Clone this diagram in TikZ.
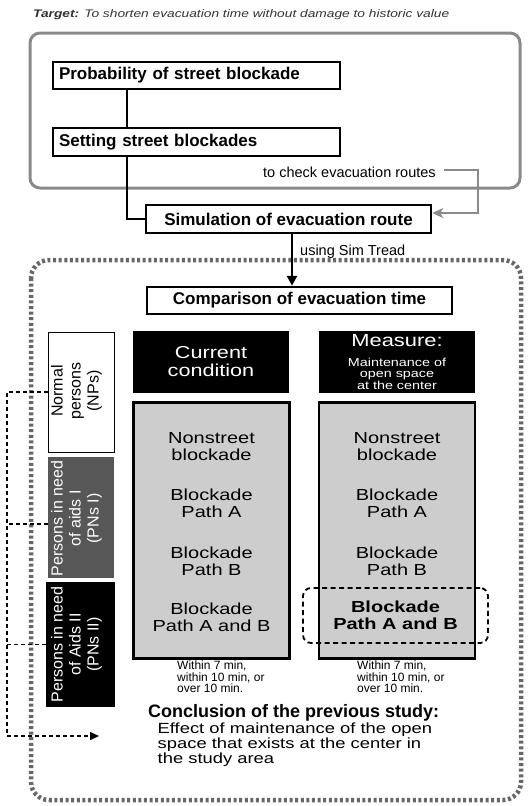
\documentclass[tikz,border=0pt]{standalone}
\usepackage{fontspec}
\setmainfont{Liberation Sans}
\newfontfamily\widesans[FakeStretch=1.25]{Liberation Sans}
\usetikzlibrary{arrows.meta,positioning}
\definecolor{FRAMEGRAY}{HTML}{8A8A8A}
\definecolor{DOTGRAY}{HTML}{676767}
\definecolor{CELLGRAY}{HTML}{CDCDCD}
\definecolor{PNSGRAY}{HTML}{575757}
\tikzset{
BOLDBOX/.style={draw=black,line width=2.5pt,inner sep=0pt,minimum height=27pt,font=\bfseries\fontsize{17}{20}\selectfont},
HEADBOX/.style={fill=black,text=white,minimum width=156pt,minimum height=62pt,inner sep=0pt,align=center},
CELL/.style={draw=black,fill=CELLGRAY,line width=2.5pt,minimum width=156pt,minimum height=256pt},
CELLTEXT/.style={align=center,inner sep=0pt,font=\widesans\fontsize{16}{17}\selectfont},
GROUP/.style={rotate=90,minimum width=#1,minimum height=66pt,inner sep=0pt},
GROUP/.default=120pt,
GROUPTEXT/.style={rotate=90,inner sep=0pt,align=center,font=\fontsize{16}{18}\selectfont},
LINK/.style={draw=black,line width=2.5pt},
FEEDBACK/.style={draw=FRAMEGRAY,line width=1.6pt,-{Stealth[length=11pt,width=10pt,inset=3pt]}},
TRACE/.style={draw=black,line width=1.5pt,dash pattern=on 4pt off 3pt},
NOTE/.style={inner sep=0pt,font=\fontsize{14.5}{16}\selectfont},
SMALLNOTE/.style={inner sep=0pt,align=left,font=\fontsize{12}{11.5}\selectfont},
}

\begin{document}
\begin{tikzpicture}[x=1pt,y=-1pt]
	\useasboundingbox (0,0) rectangle (529,806);
	%Target
	\node[anchor=west,inner sep=0pt,text=black!80,font=\widesans\itshape\fontsize{11}{13}\selectfont] (target) at (33,15)
		{\textbf{Target:} To shorten evacuation time without damage to historic value};
	%Upper frame
	\draw[FRAMEGRAY,line width=3pt,rounded corners=10pt] (30,33) rectangle (520,188);
	\node[BOLDBOX,text width=275pt,align=left,inner xsep=6pt] (prob) at (196.5,75.5) {Probability of street blockade};
	\node[BOLDBOX,text width=275pt,align=left,inner xsep=6pt,minimum height=28pt] (set) at (196.5,142) {Setting street blockades};
	\node[BOLDBOX,minimum width=285pt,minimum height=28pt] (sim) at (288.5,219) {Simulation of evacuation route};
	\node[NOTE,anchor=west] (check) at (263,172) {to check evacuation routes};
	\node[NOTE,anchor=west] (tread) at (300,252) {using Sim Tread};
	\coordinate (turn) at (478,170);
	\draw[LINK] ([xshift=-69.5pt]prob.south) -- ([xshift=-69.5pt]set.north);
	\draw[LINK] ([xshift=-69.5pt]set.south) |- (sim.west);
	\draw[FEEDBACK] ([xshift=8pt,yshift=2pt]check.east) -- (turn) |- ([yshift=6pt]sim.east);
	%Lower frame
	\draw[DOTGRAY,line width=4.5pt,dash pattern=on 3pt off 2.6pt,rounded corners=18pt] (31,260) rectangle (521,800);
	\node[BOLDBOX,minimum width=305pt] (comp) at (299.5,300.5) {Comparison of evacuation time};
	\draw[LINK,-{Triangle[length=10pt,width=10pt]}] ([xshift=3.5pt]sim.south) -- ([xshift=3.5pt]sim.south |- comp.north);
	\node[HEADBOX,font=\widesans\fontsize{17.3}{18}\selectfont] (cur) at (211,362) {Current\\condition};
	\node[HEADBOX,font=\widesans\fontsize{11.5}{11.5}\selectfont] (meas) at (397,362)
		{{\fontsize{17.5}{18}\selectfont Measure:}\\[8.5pt]Maintenance of\\open space\\at the center};
	%Cases
	\node[CELL] (cellL) at (211.5,530.5) {};
	\node[CELL] (cellR) at (397,530.5) {};
	\foreach \cx/\s in {211.5/L,397/R}{
		\node[CELLTEXT] (none\s) at (\cx,446.5) {Nonstreet\\blockade};
		\node[CELLTEXT] (pathA\s) at (\cx,503.5) {Blockade\\Path A};
		\node[CELLTEXT] (pathB\s) at (\cx,561) {Blockade\\Path B};
	}
	\node[CELLTEXT] (pathABL) at (211.5,617) {Blockade\\Path A and B};
	\node[CELLTEXT,font=\widesans\bfseries\fontsize{16}{17}\selectfont,draw=black,line width=1.8pt,dash pattern=on 5pt off 3.5pt,
		rounded corners=8pt,minimum width=185pt,minimum height=55pt] (pathABR) at (395.5,615.5) {Blockade\\Path A and B};
	\node[SMALLNOTE,anchor=north west] (timeL) at (177,661) {Within 7 min,\\within 10 min, or\\over 10 min.};
	\node[SMALLNOTE,anchor=north west] (timeR) at (357,661) {Within 7 min,\\within 10 min, or\\over 10 min.};
	%Persons
	\node[GROUP=120pt,draw=black,line width=0.8pt,fill=white] (nps) at (81,392) {};
	\node[GROUP=121pt,fill=PNSGRAY] (pns1) at (81,517.5) {};
	\node[GROUP=125pt,minimum height=69pt,fill=black] (pns2) at (80.5,644.5) {};
	\node[GROUPTEXT] (npsText) at (76.5,391) {Normal\\persons\\(NPs)};
	\node[GROUPTEXT,text=white] (pns1Text) at (76.5,518.5) {Persons in need\\of aids I\\(PNs I)};
	\node[GROUPTEXT,text=white] (pns2Text) at (76.5,644.5) {Persons in need\\of Aids II\\(PNs II)};
	\coordinate (bend) at (7,736);
	\coordinate (tip) at (99,736);
	\draw[TRACE] (nps.north) -| (bend);
	\draw[TRACE] ([yshift=-6.5pt]pns1.north) -- ([yshift=-6.5pt]pns1.north -| bend);
	\draw[TRACE] (pns2.north) -- (pns2.north -| bend);
	\draw[TRACE,-{Triangle[length=9pt,width=8pt]}] (bend) -- (tip);
	%Conclusion
	\node[anchor=west,inner sep=0pt,font=\bfseries\fontsize{18}{20}\selectfont] (concl) at (148,713) {Conclusion of the previous study:};
	\node[anchor=north west,inner sep=0pt,align=left,font=\widesans\fontsize{14.7}{14.7}\selectfont] (effect) at (157.5,723)
		{Effect of maintenance of the open\\space that exists at the center in\\the study area};
\end{tikzpicture}
\end{document}
